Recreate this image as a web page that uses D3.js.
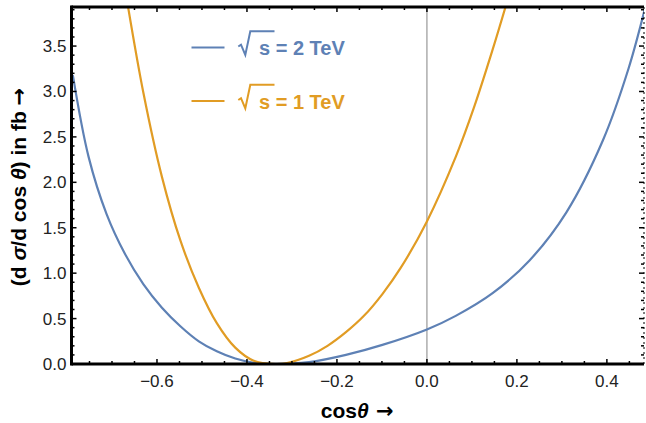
<!DOCTYPE html>
<html>
<head>
<meta charset="utf-8">
<script src="https://cdn.jsdelivr.net/npm/d3@7"></script>
<style>
  body { margin: 0; background: #fff; }
  text { font-family: "Liberation Sans", Arial, sans-serif; }
</style>
</head>
<body>
<div id="chart"></div>
<script>
// values (cos theta, d sigma / d cos theta in fb)
var cosBlue = [-0.787, -0.752, -0.712, -0.671, -0.630, -0.589, -0.548, -0.507, -0.467, -0.426, -0.385, -0.340, -0.262, -0.180, -0.099, 0.0, 0.064, 0.146, 0.228, 0.310, 0.391, 0.448, 0.485];
var valBlue = [3.18, 2.28, 1.65, 1.21, 0.877, 0.62, 0.416, 0.25, 0.14, 0.06, 0.014, 0.0, 0.02, 0.10, 0.21, 0.38, 0.53, 0.78, 1.14, 1.67, 2.46, 3.25, 3.92];

var cosOrange = [-0.670, -0.630, -0.589, -0.548, -0.507, -0.467, -0.426, -0.385, -0.337, -0.311, -0.262, -0.221, -0.180, -0.140, -0.099, -0.058, 0.0, 0.064, 0.105, 0.146, 0.180];
var valOrange = [4.1, 2.98, 2.06, 1.36, 0.84, 0.45, 0.18, 0.036, 0.0, 0.01, 0.09, 0.20, 0.35, 0.53, 0.77, 1.06, 1.57, 2.28, 2.83, 3.46, 4.02];

var seriesNames = ["2", "1"];
var xTicks = [-0.6, -0.4, -0.2, 0.0, 0.2, 0.4];
var yTicks = [0.0, 0.5, 1.0, 1.5, 2.0, 2.5, 3.0, 3.5];

var blue = "#5E81B5", orange = "#E19C24";

// set the dimensions and margins of the graph
var margin = {top: 7, right: 2, bottom: 59, left: 71.5},
    width = 646 - margin.left - margin.right,
    height = 423 - margin.top - margin.bottom;

var svg = d3.select("#chart")
  .append("svg")
    .attr("width", 646)
    .attr("height", 423)
  .append("g")
    .attr("transform", "translate(" + margin.left + "," + margin.top + ")");

var x = d3.scaleLinear().domain([-0.79, 0.4825]).range([0, width]);
var y = d3.scaleLinear().domain([0, 3.93]).range([height, 0]);

svg.append("clipPath").attr("id", "clip")
  .append("rect").attr("width", width).attr("height", height);

// zero line
svg.append("line")
  .attr("x1", x(0)).attr("x2", x(0))
  .attr("y1", 0).attr("y2", height)
  .attr("stroke", "#a0a0a0").attr("stroke-width", 1.3);

// curves
var line = d3.line()
  .x(function(d) { return x(d[0]); })
  .y(function(d) { return y(d[1]); })
  .curve(d3.curveCatmullRom.alpha(0.5));

var series = [
  {pts: d3.zip(cosBlue, valBlue), color: blue},
  {pts: d3.zip(cosOrange, valOrange), color: orange}
];
svg.append("g").attr("clip-path", "url(#clip)")
  .selectAll("path")
  .data(series)
  .enter()
  .append("path")
    .attr("d", function(d) { return line(d.pts); })
    .attr("fill", "none")
    .attr("stroke", function(d) { return d.color; })
    .attr("stroke-width", 2.2);

// frame: thick left/bottom/top, dashed right
var frame = svg.append("g");
frame.append("line").attr("x1", 0).attr("x2", width).attr("y1", height).attr("y2", height)
  .attr("stroke", "#000").attr("stroke-width", 3);
frame.append("line").attr("x1", 0).attr("x2", width).attr("y1", 0).attr("y2", 0)
  .attr("stroke", "#000").attr("stroke-width", 3);
frame.append("line").attr("x1", 0).attr("x2", 0).attr("y1", -1.5).attr("y2", height + 1.5)
  .attr("stroke", "#000").attr("stroke-width", 3);
frame.append("line").attr("x1", width).attr("x2", width).attr("y1", 0).attr("y2", height)
  .attr("stroke", "#000").attr("stroke-width", 1).attr("stroke-dasharray", "2,3");

// ticks
var xMinor = d3.range(-15, 10).map(function(i) { return i * 0.05; })
  .filter(function(v) { return v > -0.79 && v < 0.48; });
var yMinor = d3.range(0, 40).map(function(i) { return i * 0.1; })
  .filter(function(v) { return v < 3.92; });
function isMajor(v, step) { return Math.abs(v / step - Math.round(v / step)) < 1e-6; }

xMinor.forEach(function(v) {
  var len = isMajor(v, 0.2) ? 5 : 3;
  frame.append("line").attr("x1", x(v)).attr("x2", x(v)).attr("y1", height).attr("y2", height - len)
    .attr("stroke", "#000").attr("stroke-width", 1.5);
  frame.append("line").attr("x1", x(v)).attr("x2", x(v)).attr("y1", 0).attr("y2", len)
    .attr("stroke", "#000").attr("stroke-width", 1.5);
});
yMinor.forEach(function(v) {
  var len = isMajor(v, 0.5) ? 5 : 3;
  frame.append("line").attr("x1", 0).attr("x2", len).attr("y1", y(v)).attr("y2", y(v))
    .attr("stroke", "#000").attr("stroke-width", 1.5);
  frame.append("line").attr("x1", width).attr("x2", width - len).attr("y1", y(v)).attr("y2", y(v))
    .attr("stroke", "#000").attr("stroke-width", 1.5);
});

// tick labels
svg.append("g").selectAll("text")
  .data(xTicks)
  .enter()
  .append("text")
    .attr("x", function(d) { return x(d); })
    .attr("y", height + 23)
    .attr("text-anchor", "middle")
    .attr("font-size", 17)
    .attr("fill", "#222")
    .text(function(d) { return d3.format(".1f")(d).replace("-", "\u2212"); });

svg.append("g").selectAll("text")
  .data(yTicks)
  .enter()
  .append("text")
    .attr("x", -5)
    .attr("y", function(d) { return y(d) + 6; })
    .attr("text-anchor", "end")
    .attr("font-size", 17)
    .attr("fill", "#222")
    .text(function(d) { return d3.format(".1f")(d); });

// axis labels
var xl = svg.append("text")
  .attr("x", x(-0.155))
  .attr("y", height + 54)
  .attr("text-anchor", "middle")
  .attr("font-size", 21)
  .attr("font-weight", "bold");
xl.append("tspan").text("cos");
xl.append("tspan").attr("font-style", "italic").text("\u03b8");
xl.append("tspan").attr("font-family", "DejaVu Sans").text(" \u2192");

var yl = svg.append("text")
  .attr("transform", "translate(-45.5,180)rotate(-90)")
  .attr("text-anchor", "middle")
  .attr("font-size", 21)
  .attr("font-weight", "bold");
yl.append("tspan").text("(d ");
yl.append("tspan").attr("font-style", "italic").text("\u03c3");
yl.append("tspan").text("/d cos ");
yl.append("tspan").attr("font-style", "italic").text("\u03b8");
yl.append("tspan").text(") in fb ");
yl.append("tspan").attr("font-family", "DejaVu Sans").text("\u2192");

// legend
var legend = svg.append("g")
  .selectAll("g")
  .data(seriesNames)
  .enter()
  .append("g")
    .attr("transform", function(d, i) { return "translate(120," + (40.5 + i * 53.5) + ")"; });

legend.append("line")
  .attr("x1", 0).attr("x2", 33)
  .attr("stroke", function(d, i) { return series[i].color; })
  .attr("stroke-width", 2.2);

// radical sign with overline
legend.append("path")
  .attr("d", "M46.8,-1 L49.5,-2.8 L53.8,7.5 L58.8,-16.3 L83,-16.3")
  .attr("fill", "none")
  .attr("stroke", function(d, i) { return series[i].color; })
  .attr("stroke-width", 2)
  .attr("stroke-linejoin", "miter");

legend.append("text")
  .attr("x", 67.5)
  .attr("y", 7.5)
  .attr("font-size", 20)
  .attr("font-weight", "bold")
  .attr("fill", function(d, i) { return series[i].color; })
  .text(function(d) { return "s = " + d + " TeV"; });
</script>
</body>
</html>
